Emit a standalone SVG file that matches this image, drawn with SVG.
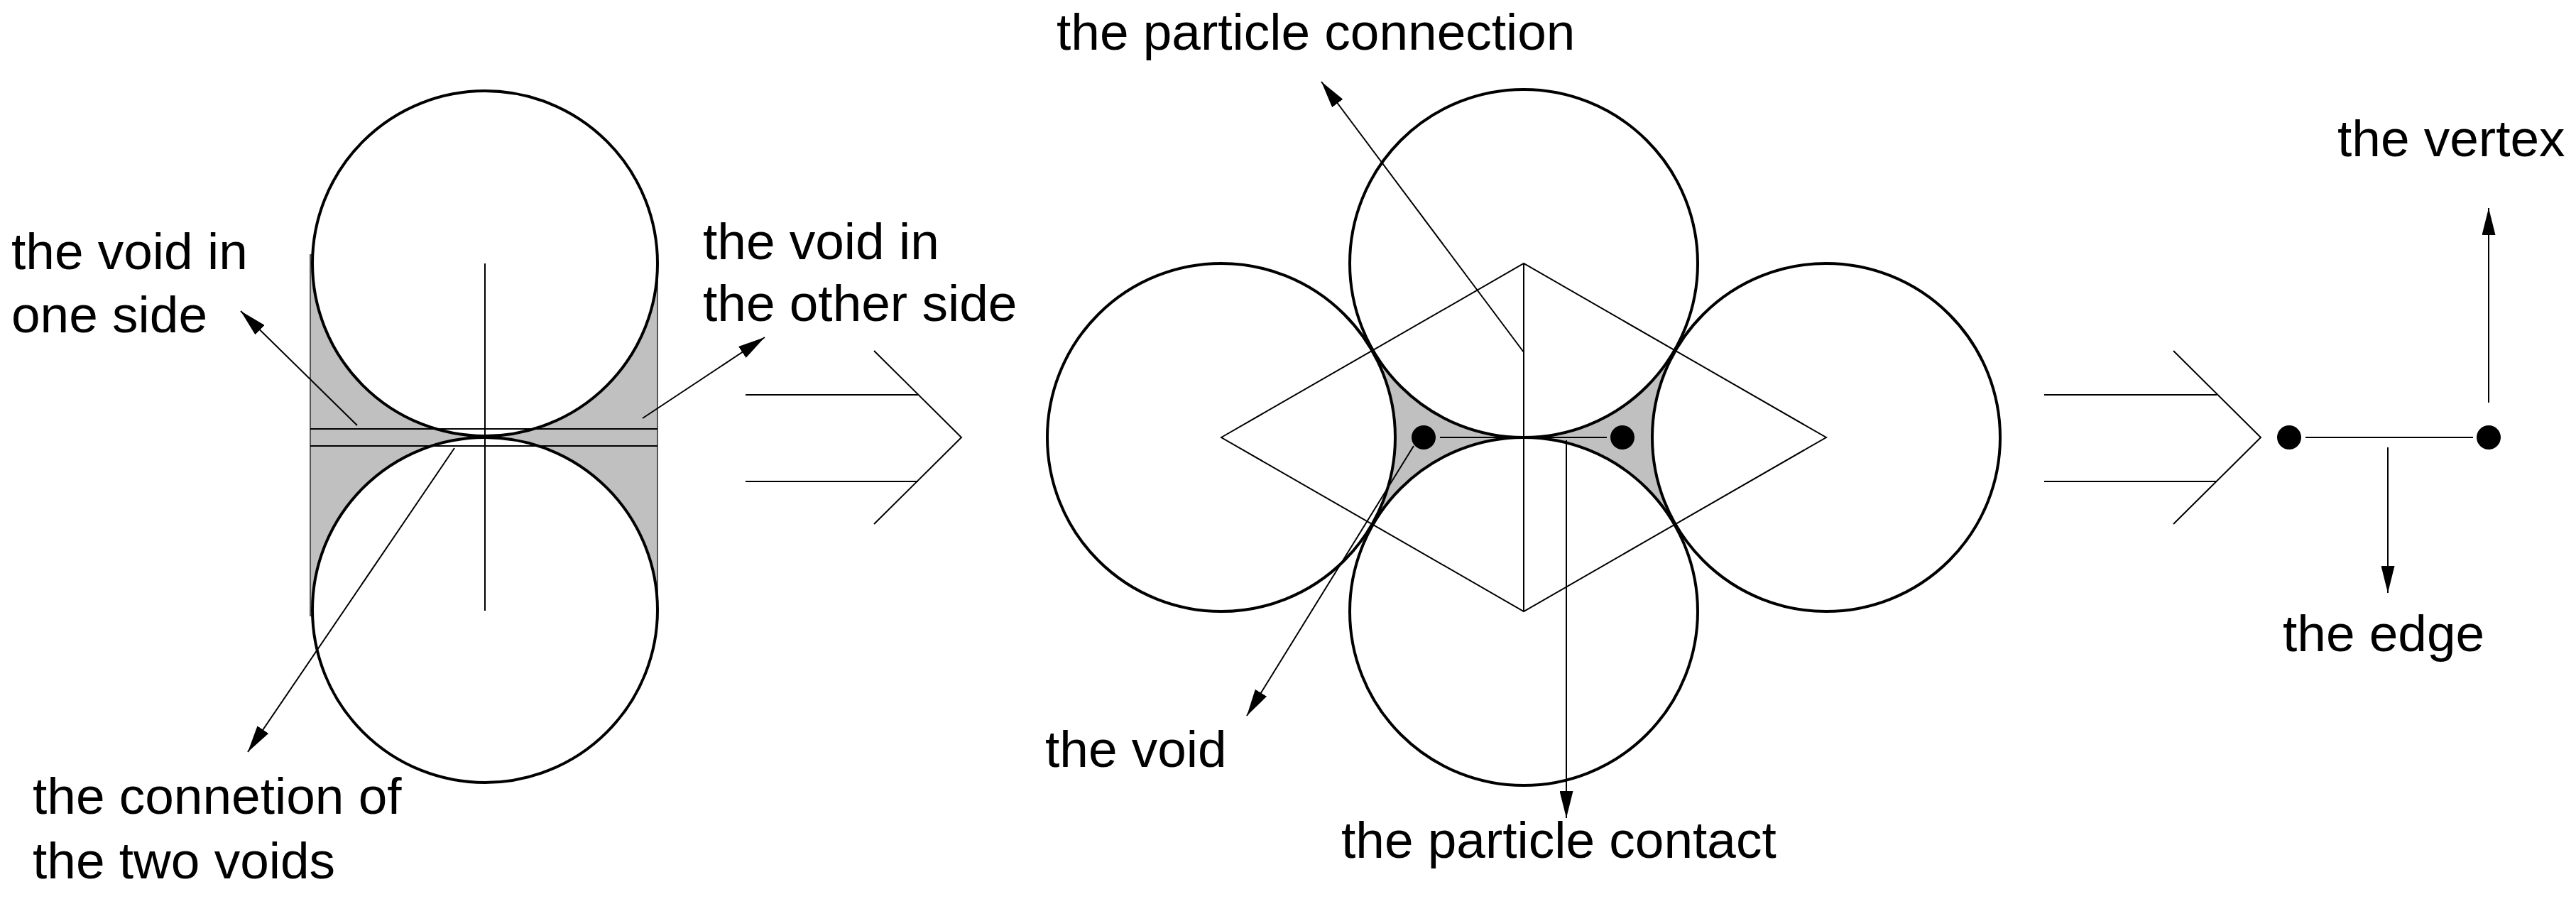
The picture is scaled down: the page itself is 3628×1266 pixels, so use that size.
<svg xmlns="http://www.w3.org/2000/svg" width="3628" height="1266" viewBox="0 0 3628 1266">
<style>
text{font-family:"Liberation Sans",Arial,sans-serif;font-size:73px;fill:#000}
.p{fill:#fff;stroke:#000;stroke-width:4}
.t{fill:none;stroke:#000;stroke-width:2}
.g{fill:#c0c0c0;stroke:none}
.d{fill:#000}
.a{fill:none;stroke:#000;stroke-width:2;marker-end:url(#ah)}
</style>
<defs>
<marker id="ah" markerUnits="userSpaceOnUse" viewBox="0 0 38 19" refX="38" refY="9.5" markerWidth="38" markerHeight="19" orient="auto">
<path d="M0,0 L38,9.5 L0,19 Z" fill="#000"/>
</marker>
</defs>
<rect width="3628" height="1266" fill="#fff"/>
<g id="two-particles">
<rect x="437" y="359" width="489" height="508" fill="#c0c0c0" stroke="#555" stroke-width="2"/>
<circle class="p" cx="683" cy="371" r="243"/>
<circle class="p" cx="683" cy="859" r="243"/>
<line class="t" x1="437" y1="604" x2="926" y2="604"/>
<line class="t" x1="437" y1="628" x2="926" y2="628"/>
<line class="t" x1="683" y1="371" x2="683" y2="860"/>
</g>
<g id="four-particles">
<polygon class="g" points="1933,493 2146,616 1933,739"/>
<polygon class="g" points="2359,493 2146,616 2359,739"/>
<circle class="p" cx="1720" cy="616" r="245"/>
<circle class="p" cx="2572" cy="616" r="245"/>
<circle class="p" cx="2146" cy="371" r="245"/>
<circle class="p" cx="2146" cy="861" r="245"/>
<polygon class="t" points="1720,616 2146,371 2572,616 2146,861"/>
<line class="t" x1="2146" y1="371" x2="2146" y2="861"/>
<line class="t" x1="2028" y1="616" x2="2263" y2="616"/>
<circle class="d" cx="2005" cy="616" r="17"/>
<circle class="d" cx="2285" cy="616" r="17"/>
</g>
<g id="graph">
<line class="t" x1="3247" y1="616" x2="3483" y2="616"/>
<circle class="d" cx="3224" cy="616" r="17"/>
<circle class="d" cx="3505" cy="616" r="17"/>
</g>
<g id="transform-arrows">
<polyline class="t" points="1050,556 1293,556"/>
<polyline class="t" points="1050,678 1293,678"/>
<polyline class="t" points="1231,494 1354,616 1231,738"/>
<polyline class="t" points="2879,556 3122,556"/>
<polyline class="t" points="2879,678 3122,678"/>
<polyline class="t" points="3061,494 3184,616 3061,738"/>
</g>
<g id="connectors">
<line class="a" x1="503" y1="599" x2="339" y2="438"/>
<line class="a" x1="640" y1="631" x2="349" y2="1059"/>
<line class="a" x1="905" y1="589" x2="1077" y2="475"/>
<line class="a" x1="2146" y1="496" x2="1861" y2="115"/>
<line class="a" x1="1991" y1="628" x2="1756" y2="1008"/>
<line class="a" x1="2206" y1="620" x2="2206" y2="1152"/>
<line class="a" x1="3505" y1="567" x2="3505" y2="293"/>
<line class="a" x1="3363" y1="630" x2="3363" y2="835"/>
</g>
<g id="labels">
<text x="16" y="379">the void in</text>
<text x="16" y="468">one side</text>
<text x="990" y="365">the void in</text>
<text x="990" y="452">the other side</text>
<text x="46" y="1146">the connetion of</text>
<text x="46" y="1237">the two voids</text>
<text x="1488" y="70">the particle connection</text>
<text x="1472" y="1080">the void</text>
<text x="1889" y="1208">the particle contact</text>
<text x="3292" y="220">the vertex</text>
<text x="3215" y="917">the edge</text>
</g>
</svg>
